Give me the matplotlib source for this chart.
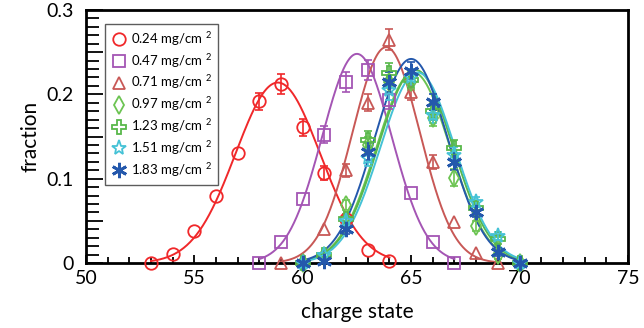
import matplotlib
matplotlib.use("Agg")
import matplotlib.pyplot as plt
import numpy as np
from matplotlib.lines import Line2D
from matplotlib.ticker import MultipleLocator, FuncFormatter

plt.rcParams["font.family"] = ["Lato", "DejaVu Sans"]
plt.rcParams["mathtext.default"] = "regular"

# charge-state distributions for each foil thickness
q_024 = [53, 54, 55, 56, 57, 58, 59, 60, 61, 62, 63, 64]
f_024 = [0.0, 0.011, 0.038, 0.080, 0.130, 0.192, 0.212, 0.161, 0.107, 0.052, 0.015, 0.002]
e_024 = [0, 0, 0, 0, 0, 0.010, 0.012, 0.010, 0.008, 0, 0, 0]

q_047 = [58, 59, 60, 61, 62, 63, 64, 65, 66, 67]
f_047 = [0.0, 0.025, 0.076, 0.152, 0.215, 0.229, 0.193, 0.083, 0.025, 0.0]
e_047 = [0, 0, 0, 0.010, 0.012, 0.012, 0.010, 0, 0, 0]

q_071 = [59, 60, 61, 62, 63, 64, 65, 66, 67, 68, 69]
f_071 = [0.0, 0.004, 0.040, 0.110, 0.190, 0.265, 0.203, 0.120, 0.049, 0.012, 0.0]
e_071 = [0, 0, 0, 0.008, 0.010, 0.012, 0.010, 0.008, 0, 0, 0]

q_hi = [60, 61, 62, 63, 64, 65, 66, 67, 68, 69, 70]
f_097 = [0.0, 0.008, 0.069, 0.140, 0.215, 0.215, 0.172, 0.101, 0.044, 0.010, 0.0]
f_123 = [0.0, 0.010, 0.052, 0.146, 0.225, 0.217, 0.180, 0.136, 0.065, 0.028, 0.0]
f_151 = [0.0, 0.010, 0.050, 0.125, 0.205, 0.220, 0.176, 0.128, 0.072, 0.032, 0.0]
f_183 = [0.0, 0.002, 0.040, 0.132, 0.215, 0.228, 0.191, 0.120, 0.061, 0.013, 0.0]
e_hi = [0, 0, 0.006, 0.010, 0.012, 0.010, 0.010, 0.010, 0.006, 0.005, 0]

# gaussian fit parameters (height, centre, width) for each thickness
fit_amp = [0.214, 0.248, 0.256, 0.226, 0.229, 0.226, 0.242]
fit_mu = [58.85, 62.5, 63.85, 65.1, 65.2, 65.3, 65.0]
fit_sig = [1.95, 1.6, 1.55, 1.7, 1.72, 1.72, 1.7]

labels = ["0.24", "0.47", "0.71", "0.97", "1.23", "1.51", "1.83"]

series = [
    (q_024, f_024, e_024, "o", "#f0282a", 9),
    (q_047, f_047, e_047, "s", "#a455b4", 9),
    (q_071, f_071, e_071, "^", "#c85856", 9),
    (q_hi, f_097, e_hi, "d", "#6cc452", 9),
    (q_hi, f_123, e_hi, "P", "#58b84a", 10),
    (q_hi, f_151, e_hi, "*", "#45c2d6", 11),
    (q_hi, f_183, e_hi, (6, 2, 0), "#2458ac", 11),
]

fig = plt.figure(figsize=(6.44, 3.28), dpi=100)
ax = fig.add_axes([0.1335, 0.198, 0.8415, 0.7715])

handles = []
for k, ((q, f, e, mk, col, ms), lab) in enumerate(zip(series, labels)):
    xx = np.linspace(min(q), max(q), 300)
    yy = fit_amp[k] * np.exp(-0.5 * ((xx - fit_mu[k]) / fit_sig[k]) ** 2)
    ax.plot(xx, yy, color=col, lw=1.4, zorder=2)
    err = np.asarray(e, float)
    mask = err > 0
    ax.errorbar(np.asarray(q)[mask], np.asarray(f)[mask], yerr=err[mask], fmt="none",
                ecolor=col, elinewidth=1.2, capsize=3, capthick=1.2, zorder=3)
    mew = 2 if mk == (6, 2, 0) else 1.3
    ax.plot(q, f, linestyle="none", marker=mk, markersize=ms, markerfacecolor="none",
            markeredgecolor=col, markeredgewidth=mew, zorder=4, clip_on=False)
    handles.append(Line2D([], [], linestyle="none", marker=mk, markersize=ms,
                          markerfacecolor="none", markeredgecolor=col,
                          markeredgewidth=mew, label=f"{lab} mg/cm $^{{2}}$"))

ax.set_xlim(50, 75)
ax.set_ylim(0, 0.3)
ax.xaxis.set_major_locator(MultipleLocator(5))
ax.xaxis.set_minor_locator(MultipleLocator(1))
ax.yaxis.set_major_locator(MultipleLocator(0.05))
ax.yaxis.set_minor_locator(MultipleLocator(0.01))
ax.yaxis.set_major_formatter(FuncFormatter(
    lambda v, p: "" if round(v * 100) % 10 else ("0" if abs(v) < 1e-9 else f"{v:.1f}")))

ax.tick_params(axis="both", which="both", direction="in", width=1.3, labelsize=14,
               colors="black")
ax.tick_params(axis="x", which="major", length=6, pad=5)
ax.tick_params(axis="x", which="minor", length=4)
ax.tick_params(axis="y", which="major", length=12, pad=9)
ax.tick_params(axis="y", which="minor", length=9.5)
for sp in ax.spines.values():
    sp.set_linewidth(2)

ax.set_xlabel("charge state", fontsize=15, labelpad=11)
ax.set_ylabel("fraction", fontsize=15, labelpad=4)

leg = ax.legend(handles=handles, loc="upper left", bbox_to_anchor=(0.036, 0.945),
                fontsize=9.5, frameon=True, fancybox=False, edgecolor="#333333",
                handletextpad=0.3, borderpad=0.45, labelspacing=0.3, handlelength=1.2,
                borderaxespad=0)
leg.get_frame().set_linewidth(1.0)

fig.savefig("out.png", dpi=100)
